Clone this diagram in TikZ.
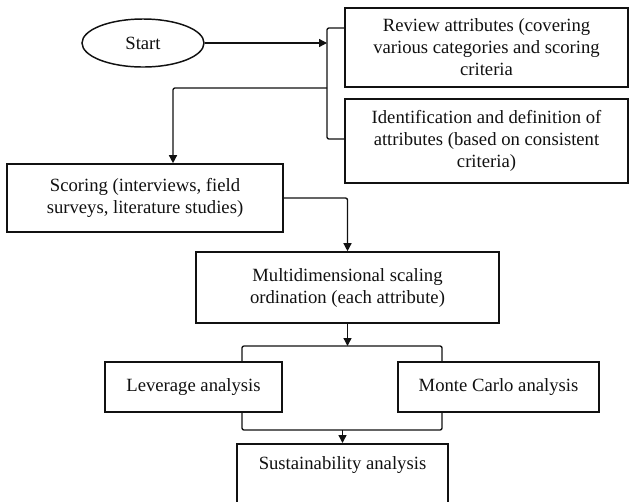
\documentclass[tikz,border=0pt]{standalone}
\usepackage{fontspec}
\setmainfont{Liberation Serif}
\usepackage{tikz}
\usetikzlibrary{
  arrows.meta,
  shapes.geometric,
}
\definecolor{ink}{HTML}{111111}
\definecolor{pagebg}{HTML}{FFFFFF}
\tikzset{
  >={Triangle[length=6pt,width=6pt]},
  font=\fontsize{14}{16.5}\selectfont,
  every node/.append style={text=ink},
  box/.style={draw=ink, line width=1.2pt, align=center, inner sep=2pt},
  oval/.style={
    ellipse,
    draw=ink,
    line width=1.1pt,
    minimum width=91.5pt,
    minimum height=36pt,
  },
  flow/.style={draw=ink, line width=1pt, rounded corners=1.5pt},
}

\begin{document}
\begin{tikzpicture}[x=0.75pt,y=-0.75pt]
  \fill[pagebg] (0,0) rectangle (630,501);
  \clip (0,0) rectangle (630,501);

  % Start
  \node[oval] (start) at (143,43) {Start};

  % Attribute boxes
  \node[box, minimum width=212.25pt, minimum height=59.25pt] (review) at (486.5,47.5)
    {Review attributes (covering\\various categories and scoring\\criteria};
  \node[box, minimum width=212.25pt, minimum height=63pt] (ident) at (486.5,141)
    {Identification and definition of\\attributes (based on consistent\\criteria)};

  % Scoring and MDS
  \node[box, minimum width=207pt, minimum height=51pt] (scoring) at (145,198)
    {Scoring (interviews, field\\surveys, literature studies)};
  \node[box, minimum width=227.25pt, minimum height=53.25pt] (mds) at (347.5,287.5)
    {Multidimensional scaling\\ordination (each attribute)};

  % Analyses
  \node[box, minimum width=132.75pt, minimum height=37.5pt] (leverage) at (193.5,387) {Leverage analysis};
  \node[box, minimum width=150.75pt, minimum height=37.5pt] (monte) at (498.5,387) {Monte Carlo analysis};
  \node[box, minimum width=158.25pt, inner sep=0pt, text height=19.5pt, text depth=50pt, anchor=north]
    (sust) at (342.5,443) {Sustainability analysis};

  % Bracket joints
  \coordinate (brtop) at (327,28);
  \coordinate (brmid) at (327,88);
  \coordinate (brbot) at (327,139);
  \coordinate (splitL) at (242,346);
  \coordinate (splitR) at (442,346);
  \coordinate (joinL) at (242,430);
  \coordinate (joinR) at (442,430);

  % Connectors
  \draw[flow, ->] (start.east) -- (start -| brtop);
  \draw[flow] (brtop -| review.west) -- (brtop) -- (brbot) -- (brbot -| ident.west);
  \draw[flow, ->] (brmid) -| ([xshift=21pt]scoring.north);
  \draw[flow, ->] (scoring.east) -| (mds.north);
  \draw[flow, ->] (mds.south) -- (mds.south |- splitL);
  \draw[flow] (splitL |- leverage.north) -- (splitL) -- (splitR) -- (splitR |- monte.north);
  \draw[flow] (joinL |- leverage.south) -- (joinL) -- (joinR) -- (joinR |- monte.south);
  \draw[flow, ->] (sust.north |- joinL) -- (sust.north);
\end{tikzpicture}
\end{document}
